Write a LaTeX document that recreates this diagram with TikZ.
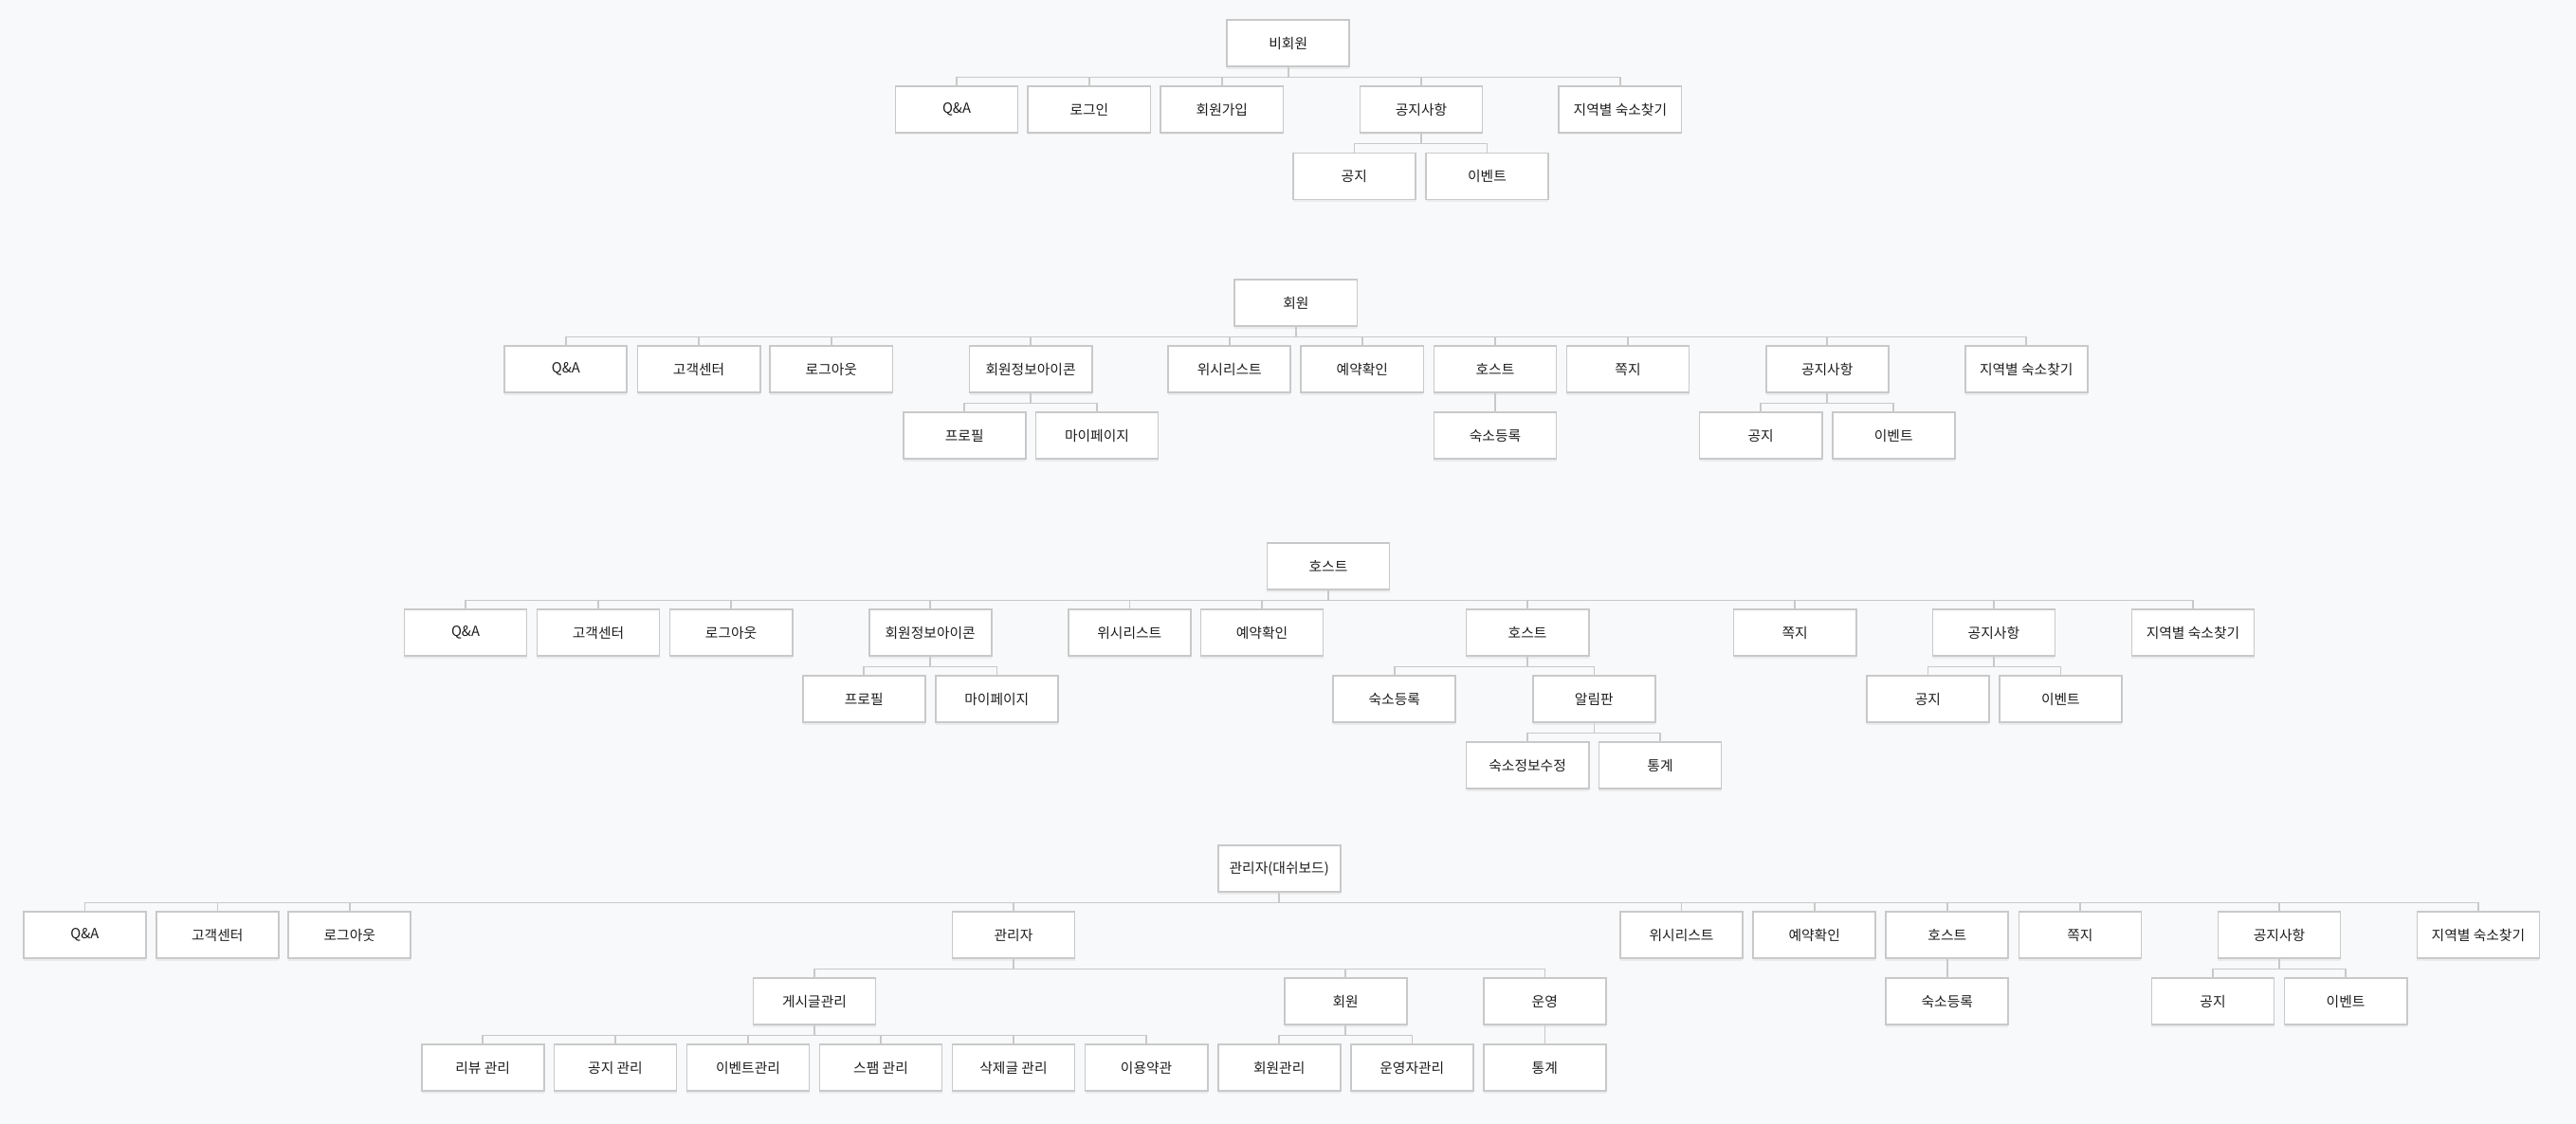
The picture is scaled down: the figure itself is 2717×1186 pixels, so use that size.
\documentclass[tikz,border=0pt]{standalone}
\usepackage{fontspec}
\setmainfont{Noto Sans CJK KR}
\usetikzlibrary{shadows}
\definecolor{bg}{HTML}{F8F9FA}
\definecolor{edgegray}{HTML}{C9C9C9}
\definecolor{txt}{HTML}{1E1E1E}

\newcommand{\branch}[2]{\foreach \c in {#2} \draw[conn] (#1.south) -- ++(0,10.5) -| (\c.north);}

\begin{document}
\begin{tikzpicture}[x=0.01cm,y=-0.01cm]
\tikzstyle{menu}=[rectangle,draw=edgegray,line width=0.5pt,fill=white,
  minimum width=1.29cm,minimum height=0.49cm,inner sep=0pt,text=txt,
  font=\fontsize{4.2}{5}\selectfont,
  drop shadow={shadow xshift=0pt,shadow yshift=-0.7pt,opacity=0.10}]
\tikzstyle{conn}=[draw=edgegray,line width=0.45pt]

\fill[bg] (0,0) rectangle (2717,1186);
\useasboundingbox (0,0) rectangle (2717,1186);

% 비회원
\node[menu] (nm) at (1358.7,45.8) {비회원};
\node[menu] (nm-qa) at (1009,115.5) {Q\&A};
\node[menu] (nm-login) at (1148.9,115.5) {로그인};
\node[menu] (nm-join) at (1288.9,115.5) {회원가입};
\node[menu] (nm-notice) at (1499,115.5) {공지사항};
\node[menu] (nm-find) at (1708.9,115.5) {지역별 숙소찾기};
\node[menu] (nm-nt) at (1428.3,186) {공지};
\node[menu] (nm-ev) at (1568.5,186) {이벤트};
\branch{nm}{nm-qa,nm-login,nm-join,nm-notice,nm-find}
\branch{nm-notice}{nm-nt,nm-ev}

% 회원
\node[menu] (mb) at (1366.9,319.8) {회원};
\node[menu] (mb-qa) at (596.8,389.8) {Q\&A};
\node[menu] (mb-cs) at (737.1,389.8) {고객센터};
\node[menu] (mb-logout) at (876.9,389.8) {로그아웃};
\node[menu] (mb-info) at (1087.1,389.8) {회원정보아이콘};
\node[menu] (mb-wish) at (1296.8,389.8) {위시리스트};
\node[menu] (mb-rsv) at (1436.9,389.8) {예약확인};
\node[menu] (mb-host) at (1577,389.8) {호스트};
\node[menu] (mb-msg) at (1717,389.8) {쪽지};
\node[menu] (mb-notice) at (1927.2,389.8) {공지사항};
\node[menu] (mb-find) at (2137.2,389.8) {지역별 숙소찾기};
\node[menu] (mb-prof) at (1017.2,459.8) {프로필};
\node[menu] (mb-my) at (1157,459.8) {마이페이지};
\node[menu] (mb-reg) at (1577,459.8) {숙소등록};
\node[menu] (mb-nt) at (1857.1,459.8) {공지};
\node[menu] (mb-ev) at (1997.2,459.8) {이벤트};
\branch{mb}{mb-qa,mb-cs,mb-logout,mb-info,mb-wish,mb-rsv,mb-host,mb-msg,mb-notice,mb-find}
\branch{mb-info}{mb-prof,mb-my}
\branch{mb-host}{mb-reg}
\branch{mb-notice}{mb-nt,mb-ev}

% 호스트
\node[menu] (hs) at (1401,597.8) {호스트};
\node[menu] (hs-qa) at (491,667.8) {Q\&A};
\node[menu] (hs-cs) at (631,667.8) {고객센터};
\node[menu] (hs-logout) at (771.1,667.8) {로그아웃};
\node[menu] (hs-info) at (981.2,667.8) {회원정보아이콘};
\node[menu] (hs-wish) at (1191.3,667.8) {위시리스트};
\node[menu] (hs-rsv) at (1331,667.8) {예약확인};
\node[menu] (hs-host) at (1611.1,667.8) {호스트};
\node[menu] (hs-msg) at (1893.1,667.8) {쪽지};
\node[menu] (hs-notice) at (2102.9,667.8) {공지사항};
\node[menu] (hs-find) at (2313,667.8) {지역별 숙소찾기};
\node[menu] (hs-prof) at (911.2,737.8) {프로필};
\node[menu] (hs-my) at (1051.3,737.8) {마이페이지};
\node[menu] (hs-reg) at (1470.8,737.8) {숙소등록};
\node[menu] (hs-board) at (1681.3,737.8) {알림판};
\node[menu] (hs-nt) at (2033.4,737.8) {공지};
\node[menu] (hs-ev) at (2173.4,737.8) {이벤트};
\node[menu] (hs-edit) at (1611.1,807.8) {숙소정보수정};
\node[menu] (hs-stat) at (1751,807.8) {통계};
\branch{hs}{hs-qa,hs-cs,hs-logout,hs-info,hs-wish,hs-rsv,hs-host,hs-msg,hs-notice,hs-find}
\branch{hs-info}{hs-prof,hs-my}
\branch{hs-host}{hs-reg,hs-board}
\branch{hs-notice}{hs-nt,hs-ev}
\branch{hs-board}{hs-edit,hs-stat}

% 관리자
\node[menu] (ad) at (1349.2,916.8) {관리자(대쉬보드)};
\node[menu] (ad-qa) at (89.3,986.8) {Q\&A};
\node[menu] (ad-cs) at (229.3,986.8) {고객센터};
\node[menu] (ad-logout) at (368.8,986.8) {로그아웃};
\node[menu] (ad-admin) at (1069,986.8) {관리자};
\node[menu] (ad-wish) at (1773.6,986.8) {위시리스트};
\node[menu] (ad-rsv) at (1913.7,986.8) {예약확인};
\node[menu] (ad-host) at (2053.8,986.8) {호스트};
\node[menu] (ad-msg) at (2193.9,986.8) {쪽지};
\node[menu] (ad-notice) at (2404,986.8) {공지사항};
\node[menu] (ad-find) at (2613.9,986.8) {지역별 숙소찾기};
\node[menu] (ad-post) at (859,1056.8) {게시글관리};
\node[menu] (ad-member) at (1419.2,1056.8) {회원};
\node[menu] (ad-op) at (1629.3,1056.8) {운영};
\node[menu] (ad-reg) at (2053.8,1056.8) {숙소등록};
\node[menu] (ad-nt) at (2334,1056.8) {공지};
\node[menu] (ad-ev) at (2474.1,1056.8) {이벤트};
\node[menu] (ad-review) at (509.2,1126.8) {리뷰 관리};
\node[menu] (ad-ntm) at (649,1126.8) {공지 관리};
\node[menu] (ad-evm) at (789,1126.8) {이벤트관리};
\node[menu] (ad-spam) at (929,1126.8) {스팸 관리};
\node[menu] (ad-del) at (1069,1126.8) {삭제글 관리};
\node[menu] (ad-terms) at (1209.1,1126.8) {이용약관};
\node[menu] (ad-mm) at (1349.2,1126.8) {회원관리};
\node[menu] (ad-opm) at (1489.3,1126.8) {운영자관리};
\node[menu] (ad-stat) at (1629.3,1126.8) {통계};
\branch{ad}{ad-qa,ad-cs,ad-logout,ad-admin,ad-wish,ad-rsv,ad-host,ad-msg,ad-notice,ad-find}
\branch{ad-admin}{ad-post,ad-member,ad-op}
\branch{ad-host}{ad-reg}
\branch{ad-notice}{ad-nt,ad-ev}
\branch{ad-post}{ad-review,ad-ntm,ad-evm,ad-spam,ad-del,ad-terms}
\branch{ad-member}{ad-mm,ad-opm}
\branch{ad-op}{ad-stat}
\end{tikzpicture}
\end{document}
